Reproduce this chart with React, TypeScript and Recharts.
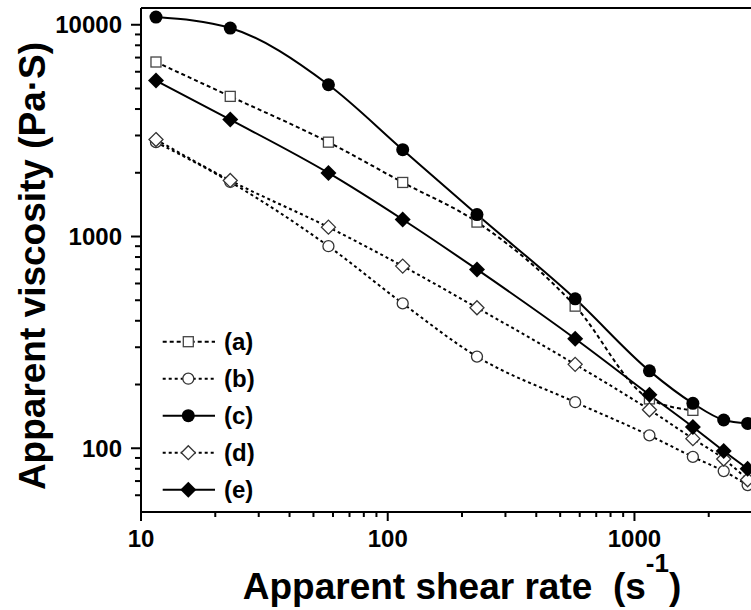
import React from 'react';
import { LineChart, Line, XAxis, YAxis, ReferenceLine, Legend } from 'recharts';

// shear rates of the capillary runs (s^-1)
const shearRates = [11.5, 23, 57.5, 115, 230, 575, 1150, 1725, 2300, 2875];

// apparent viscosity (Pa·S) per sample
const viscA = [6670, 4590, 2790, 1800, 1170, 469, 171, 151];
const viscB = [2790, 1810, 900, 483, 271, 165, 115, 91, 78, 67];
const viscC = [10870, 9650, 5210, 2570, 1270, 508, 232, 163, 136, 131];
const viscD = [2870, 1840, 1107, 725, 461, 249, 152, 111, 89, 71];
const viscE = [5450, 3565, 1996, 1203, 699, 329, 179, 126, 97, 80];

const xTicks = [10, 20, 30, 40, 50, 60, 70, 80, 90, 100, 200, 300, 400, 500, 600, 700, 800, 900, 1000, 2000, 3000, 4000];
const xMajor = [10, 100, 1000];
const yTicks = [60, 70, 80, 90, 100, 200, 300, 400, 500, 600, 700, 800, 900, 1000, 2000, 3000, 4000, 5000, 6000, 7000, 8000, 9000, 10000];
const yMajor = [100, 1000, 10000];

type MarkerKind = 'square' | 'circle' | 'disc' | 'diamond' | 'solidDiamond';

const series: { key: string; label: string; marker: MarkerKind; dash?: string; values: number[] }[] = [
  { key: 'a', label: '(a)', marker: 'square', dash: '4 3', values: viscA },
  { key: 'b', label: '(b)', marker: 'circle', dash: '3 3', values: viscB },
  { key: 'c', label: '(c)', marker: 'disc', values: viscC },
  { key: 'd', label: '(d)', marker: 'diamond', dash: '3 3', values: viscD },
  { key: 'e', label: '(e)', marker: 'solidDiamond', values: viscE },
];

const rows = shearRates.map((rate, i) => {
  const row: Record<string, number | undefined> = { rate };
  series.forEach((s) => {
    row[s.key] = s.values[i];
  });
  return row;
});

const FONT = '"Liberation Sans", Arial, Helvetica, sans-serif';

const Marker = ({ kind, cx, cy }: { kind: MarkerKind; cx: number; cy: number }) => {
  switch (kind) {
    case 'square':
      return <rect x={cx - 5} y={cy - 5} width={10} height={10} fill="#fff" stroke="#444" strokeWidth={1.3} />;
    case 'circle':
      return <circle cx={cx} cy={cy} r={5.5} fill="#fff" stroke="#333" strokeWidth={1.3} />;
    case 'disc':
      return <circle cx={cx} cy={cy} r={6.5} fill="#000" />;
    case 'diamond':
      return (
        <path
          d={`M${cx},${cy - 7}L${cx + 7},${cy}L${cx},${cy + 7}L${cx - 7},${cy}Z`}
          fill="#fff"
          stroke="#333"
          strokeWidth={1.3}
        />
      );
    case 'solidDiamond':
    default:
      return <path d={`M${cx},${cy - 8}L${cx + 8},${cy}L${cx},${cy + 8}L${cx - 8},${cy}Z`} fill="#000" />;
  }
};

const dotFor = (kind: MarkerKind, key: string) => (props: any) => {
  const { cx, cy, index, value } = props;
  if (cx == null || cy == null || value == null || Number.isNaN(cy)) return <g key={`${key}-${index}`} />;
  return (
    <g key={`${key}-${index}`}>
      <Marker kind={kind} cx={cx} cy={cy} />
    </g>
  );
};

// outward tick marks: long on decades, short in between; labels only on decades
const XTick = (props: any) => {
  const x = Number(props.x);
  const y = Number(props.y);
  const v = props.payload?.value;
  const major = xMajor.includes(v);
  return (
    <g>
      <rect x={x - 1} y={y} width={2} height={major ? 9 : 5} fill="#000" stroke="none" />
      {major && (
        <text x={x} y={y + 35} textAnchor="middle" fontSize={24} fontWeight="bold" fill="#000" stroke="none" fontFamily={FONT}>
          {v}
        </text>
      )}
    </g>
  );
};

const YTick = (props: any) => {
  const x = Number(props.x);
  const y = Number(props.y);
  const v = props.payload?.value;
  const major = yMajor.includes(v);
  const len = major ? 10 : 6;
  return (
    <g>
      <rect x={x - len} y={y - 1} width={len} height={2} fill="#000" stroke="none" />
      {major && (
        <text x={x - 19} y={y + 8.5} textAnchor="end" fontSize={24} fontWeight="bold" fill="#000" stroke="none" fontFamily={FONT}>
          {v}
        </text>
      )}
    </g>
  );
};

const XTitle = (props: any) => {
  const vb = props.viewBox || { x: 141, y: 512, width: 642, height: 98 };
  const cx = vb.x + vb.width / 2;
  const base = vb.y + 87;
  return (
    <text
      x={cx}
      y={base}
      textAnchor="middle"
      fontSize={37}
      fontWeight="bold"
      fill="#000"
      fontFamily={FONT}
      style={{ whiteSpace: 'pre' }}
    >
      Apparent shear rate  (s
      <tspan fontSize={26} dy={-27}>
        -1
      </tspan>
      <tspan dy={27}>)</tspan>
    </text>
  );
};

const YTitle = (props: any) => {
  const vb = props.viewBox || { x: 0, y: 8, width: 141, height: 504 };
  const cx = vb.x + 45;
  const cy = vb.y + vb.height / 2 + 6;
  return (
    <text
      x={cx}
      y={cy}
      transform={`rotate(-90, ${cx}, ${cy})`}
      textAnchor="middle"
      fontSize={37}
      fontWeight="bold"
      fill="#000"
      fontFamily={FONT}
    >
      Apparent viscosity (Pa·S)
    </text>
  );
};

const LegendBox = () => (
  <svg width={120} height={190} style={{ display: 'block' }}>
    {series.map((s, i) => {
      const y = 21.7 + i * 37;
      return (
        <g key={s.key}>
          <line x1={12.7} x2={65} y1={y} y2={y} stroke="#000" strokeWidth={2} strokeDasharray={s.dash} />
          <Marker kind={s.marker} cx={38.3} cy={y} />
          <text x={74} y={y + 8.5} fontSize={24} fontWeight="bold" fill="#000" fontFamily={FONT}>
            {s.label}
          </text>
        </g>
      );
    })}
  </svg>
);

export default function App() {
  return (
    <div
      style={{
        position: 'absolute',
        left: 0,
        top: 0,
        width: 751,
        height: 610,
        overflow: 'hidden',
        background: '#fff',
      }}
    >
      <LineChart
        width={800}
        height={610}
        data={rows}
        margin={{ top: 8, right: 17, bottom: 0, left: 0 }}
        style={{ fontFamily: FONT }}
      >
        <XAxis
          dataKey="rate"
          type="number"
          scale="log"
          domain={[10, 4000]}
          allowDataOverflow
          ticks={xTicks}
          interval={0}
          height={98}
          tickSize={0}
          tickMargin={0}
          tickLine={false}
          tick={(p: any) => <XTick {...p} />}
          axisLine={{ stroke: '#000', strokeWidth: 2 }}
          label={{ content: (p: any) => <XTitle {...p} /> }}
        />
        <YAxis
          type="number"
          scale="log"
          domain={[50, 12000]}
          allowDataOverflow
          ticks={yTicks}
          interval={0}
          width={141}
          tickSize={0}
          tickMargin={0}
          tickLine={false}
          tick={(p: any) => <YTick {...p} />}
          axisLine={{ stroke: '#000', strokeWidth: 2 }}
          label={{ content: (p: any) => <YTitle {...p} /> }}
        />
        <ReferenceLine y={12000} stroke="#000" strokeWidth={2} />
        <Legend
          layout="vertical"
          align="center"
          verticalAlign="middle"
          width={120}
          height={190}
          wrapperStyle={{ left: 150, top: 320, width: 120, height: 190 }}
          content={() => <LegendBox />}
        />
        {series.map((s) => (
          <Line
            key={s.key}
            dataKey={s.key}
            name={s.label}
            type="monotone"
            stroke="#000"
            strokeWidth={2}
            strokeDasharray={s.dash}
            dot={dotFor(s.marker, s.key)}
            activeDot={false}
            connectNulls={false}
            isAnimationActive={false}
          />
        ))}
      </LineChart>
    </div>
  );
}
